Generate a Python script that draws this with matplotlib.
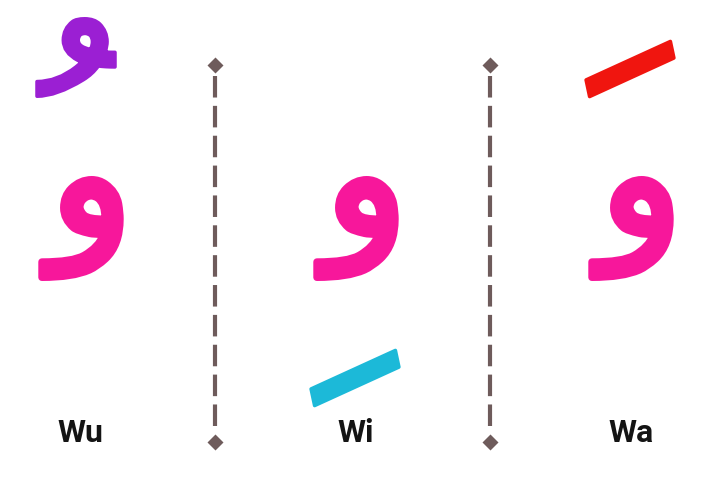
import numpy as np
import matplotlib.pyplot as plt
import matplotlib.patheffects as pe
from matplotlib.textpath import TextPath
from matplotlib.font_manager import FontProperties

# columns: waw with damma / kasra / fatha
labels = ['Wu', 'Wi', 'Wa']
letter = '\u0648'                              # waw
harakat = ['\uFE78', '\uFE7A', '\uFE76']       # damma, kasra, fatha (isolated forms)
haraka_colors = ['#9b1fd3', '#1cb9d8', '#f0150f']
letter_color = '#f7179b'
divider_color = '#6e5b5b'

col_x = [80, 356, 631]
divider_x = [215, 490]

# ink boxes (x0, y0, x1, y1) in px, y downwards
letter_boxes = [(43, 176, 119, 281), (318, 176, 394, 281), (593, 176, 669, 281)]
haraka_boxes = [(40, 17, 112, 98), (308, 353, 402, 403), (583, 44, 677, 94)]
haraka_fit = ['h', 'w', 'w']
haraka_rot = [0, 12, 12]

plt.rcParams['lines.scale_dashes'] = False
PX = 100 / 72
arab = FontProperties(family='DejaVu Sans')


def put(ax, s, box, color, fp, fit='h', rot=0, grow=0.0):
    # grow: extra stroke width in points (outline drawn round the glyph)
    pad = grow * PX / 2
    box = (box[0] + pad, box[1] + pad, box[2] - pad, box[3] - pad)
    ext = TextPath((0, 0), s, size=1, prop=fp).get_extents()
    if fit == 'h':
        size = (box[3] - box[1]) / (ext.height * PX)
    else:
        size = (box[2] - box[0]) / (ext.width * PX)
    cx = (box[0] + box[2]) / 2
    cy = (box[1] + box[3]) / 2
    ix = (ext.x0 + ext.x1) / 2 * size * PX
    iy = (ext.y0 + ext.y1) / 2 * size * PX
    th = np.radians(rot)
    rx = ix * np.cos(th) - iy * np.sin(th)
    ry = ix * np.sin(th) + iy * np.cos(th)
    t = ax.text(cx - rx, cy + ry, s, fontproperties=fp, fontsize=size, color=color,
                ha='left', va='baseline', rotation=rot, rotation_mode='anchor')
    if grow:
        t.set_path_effects([pe.Stroke(linewidth=grow, foreground=color,
                                      joinstyle='round'), pe.Normal()])


fig = plt.figure(figsize=(7.16, 4.99), dpi=100)
ax = fig.add_axes([0, 0, 1, 1])
ax.set_xlim(0, 716)
ax.set_ylim(499, 0)
ax.axis('off')

# dashed dividers with diamond ends
for x in divider_x:
    ln, = ax.plot([x, x], [76, 434], color=divider_color, lw=3.0,
                  dash_capstyle='butt')
    ln.set_dashes([15.5, 6])
    ax.plot([x, x], [65, 442], ls='none', marker='D', ms=8.5,
            color=divider_color, mec='none')

for i in range(3):
    put(ax, letter, letter_boxes[i], letter_color, arab, 'h', grow=5)
    put(ax, harakat[i], haraka_boxes[i], haraka_colors[i], arab,
        haraka_fit[i], haraka_rot[i], grow=2.5)
    ax.text(col_x[i], 442, labels[i], ha='center', va='baseline',
            fontsize=23, family='Roboto', weight='bold', color='#141414')

fig.savefig('out.png', dpi=100)
